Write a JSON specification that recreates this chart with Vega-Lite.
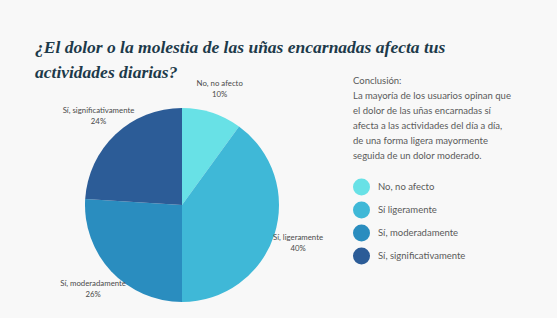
{
  "$schema": "https://vega.github.io/schema/vega-lite/v6.json",
  "width": 194,
  "height": 194,
  "autosize": {"type": "none"},
  "padding": {"left": 85, "top": 108, "right": 278, "bottom": 16},
  "background": "#f8f8f8",
  "config": {"view": {"stroke": null}},
  "title": {
    "text": ["¿El dolor o la molestia de las uñas encarnadas afecta tus", "actividades diarias?"],
    "anchor": "start",
    "frame": "group",
    "font": "'Liberation Serif', 'DejaVu Serif', serif",
    "fontStyle": "italic",
    "fontWeight": "bold",
    "fontSize": 17.5,
    "color": "#1d3a4a",
    "lineHeight": 25,
    "dx": -50,
    "dy": 9
  },
  "data": {
    "values": [
      {"respuesta": "No, no afecto", "porcentaje": 0.10},
      {"respuesta": "Sí, ligeramente", "porcentaje": 0.40},
      {"respuesta": "Sí, moderadamente", "porcentaje": 0.26},
      {"respuesta": "Sí, significativamente", "porcentaje": 0.24}
    ]
  },
  "encoding": {
    "theta": {"field": "porcentaje", "type": "quantitative", "stack": true},
    "order": {"field": "respuesta", "type": "ordinal"}
  },
  "layer": [
    {
      "mark": {"type": "arc", "outerRadius": 97},
      "encoding": {
        "color": {
          "field": "respuesta",
          "type": "nominal",
          "scale": {
            "domain": ["No, no afecto", "Sí, ligeramente", "Sí, moderadamente", "Sí, significativamente"],
            "range": ["#68e1e6", "#3fb8d7", "#2a8dbf", "#2c5c97"]
          },
          "legend": {
            "orient": "none",
            "legendX": 268,
            "legendY": -32,
            "title": ["Conclusión:", "La mayoría de los usuarios opinan que", "el dolor de las uñas encarnadas sí", "afecta a las actividades del día a día,", "de una forma ligera mayormente", "seguida de un dolor moderado."],
            "titleFont": "Lato",
            "titleFontSize": 9.5,
            "titleFontWeight": "normal",
            "titleColor": "#5a5a5a",
            "titleLineHeight": 15,
            "titlePadding": 18,
            "symbolType": "circle",
            "symbolSize": 289,
            "symbolStrokeWidth": 0,
            "symbolOpacity": 1,
            "labelFont": "Lato",
            "labelFontSize": 9.5,
            "labelColor": "#5a5a5a",
            "labelOffset": 8,
            "rowPadding": 6,
            "labelExpr": "datum.label == 'Sí, ligeramente' ? 'Sí ligeramente' : datum.label"
          }
        }
      }
    },
    {
      "mark": {"type": "text", "radius": 122, "dy": -5, "font": "Lato", "fontSize": 7.8, "color": "#4a4a4a"},
      "encoding": {
        "detail": {"field": "respuesta", "type": "nominal"},
        "text": {"field": "respuesta", "type": "nominal"}
      }
    },
    {
      "mark": {"type": "text", "radius": 122, "dy": 6, "font": "Lato", "fontSize": 7.8, "color": "#4a4a4a"},
      "encoding": {
        "detail": {"field": "respuesta", "type": "nominal"},
        "text": {"field": "porcentaje", "type": "quantitative", "format": ".0%"}
      }
    }
  ]
}
